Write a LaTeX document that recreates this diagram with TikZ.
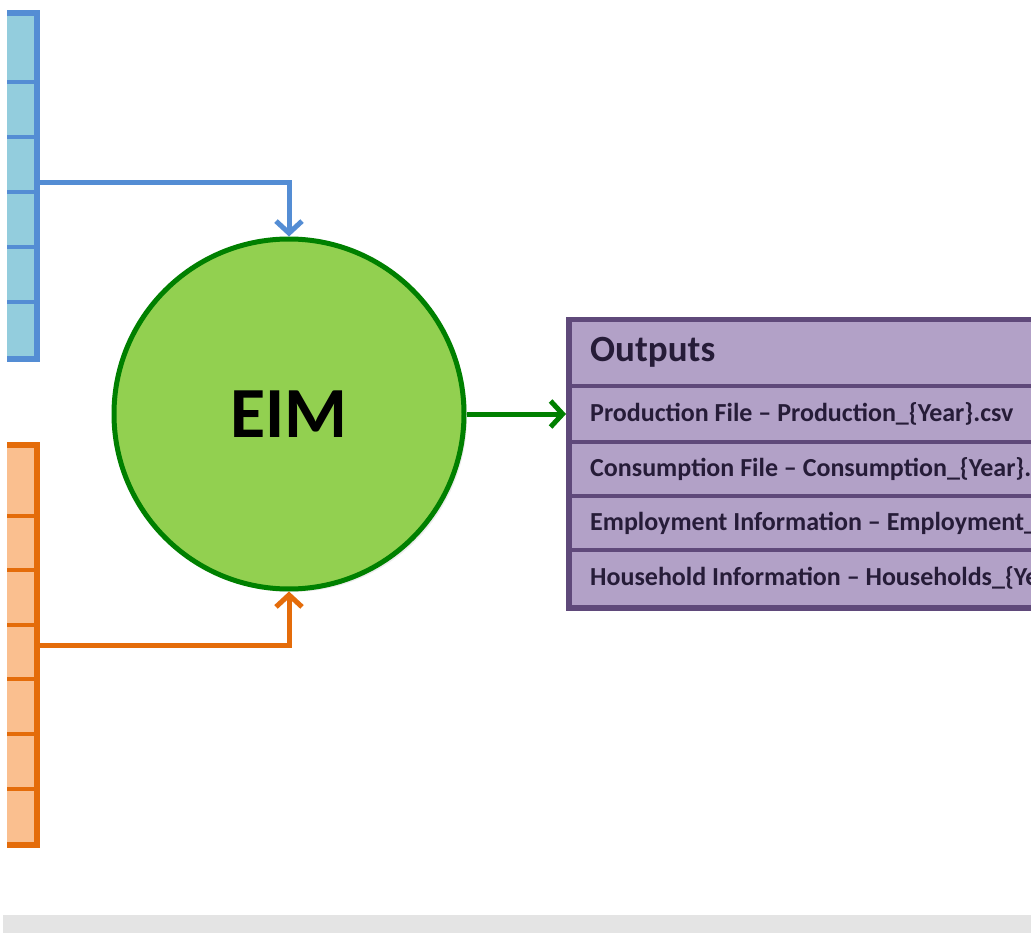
\documentclass[tikz,border=0pt]{standalone}
\usepackage{fontspec}
\setmainfont{Carlito}
\usetikzlibrary{arrows.meta,shadows}
\definecolor{inBlue}{RGB}{147,205,221}
\definecolor{inBlueLine}{RGB}{84,141,212}
\definecolor{inOrange}{RGB}{250,191,143}
\definecolor{inOrangeLine}{RGB}{228,108,10}
\definecolor{eimGreen}{RGB}{146,208,80}
\definecolor{eimGreenLine}{RGB}{0,128,0}
\definecolor{outPurple}{RGB}{178,161,199}
\definecolor{outPurpleLine}{RGB}{95,73,122}
\definecolor{outText}{RGB}{38,28,56}
\definecolor{band}{RGB}{228,228,228}
\begin{document}
\begin{tikzpicture}[x=1pt,y=-1pt]
    \tikzset{box/.style={draw,line width=5.5pt,inner sep=0pt,
        drop shadow={opacity=.2,shadow xshift=3pt,shadow yshift=-3pt}},
      inbox/.style={box,fill=inBlue,draw=inBlueLine,minimum width=70pt,minimum height=346pt},
      orbox/.style={box,fill=inOrange,draw=inOrangeLine,minimum width=70pt,minimum height=400pt},
      outbox/.style={box,fill=outPurple,draw=outPurpleLine,minimum width=500pt,minimum height=288pt},
      eim/.style={circle,draw=eimGreenLine,fill=eimGreen,line width=5pt,minimum size=350pt,
        drop shadow={opacity=.15,shadow xshift=3pt,shadow yshift=-3pt}},
      flow/.style={line width=5pt,-{Straight Barb[length=12pt,width=26pt]}},
      row/.style={anchor=west,inner sep=0pt,text=outText,font=\fontsize{26}{30}\selectfont\bfseries}}
    \useasboundingbox (0,0) rectangle (1031,933);
    \clip (0,0) rectangle (1031,933);
    \fill[white] (0,0) rectangle (1031,933);
    \fill[band] (3,915) rectangle (1031,933);

    % inputs (cut at the left edge)
    \begin{scope}
      \clip (7,0) rectangle (1031,933);
      \node[inbox] (blue) at (2,186) {};
      \foreach \y in {82,137,192,247,302}
        \draw[inBlueLine,line width=3.5pt] (blue.west |- 0,\y) -- (blue.east |- 0,\y);
      \node[orbox] (orange) at (2,645) {};
      \foreach \y in {516,570,625,679,734,789}
        \draw[inOrangeLine,line width=3.5pt] (orange.west |- 0,\y) -- (orange.east |- 0,\y);
    \end{scope}

    \node[eim] (e) at (289,414) {\fontsize{72}{76}\selectfont\bfseries EIM};

    % outputs
    \node[outbox,anchor=north west] (out) at (566,317) {};
    \foreach \y in {386,442,496,550}
      \draw[outPurpleLine,line width=3.5pt] (out.west |- 0,\y) -- (out.east |- 0,\y);
    \node[row,font=\fontsize{37}{40}\selectfont\bfseries] (ttl) at (590,352) {Outputs};
    \node[row] (prod) at (590,414) {Production File – Production\_\{Year\}.csv};
    \node[row] (cons) at (590,469) {Consumption File – Consumption\_\{Year\}.csv};
    \node[row] (empl) at (590,523) {Employment Information – Employment\_\{Year\}.csv};
    \node[row] (hous) at (590,578) {Household Information – Households\_\{Year\}.csv};

    \draw[flow,inBlueLine] (blue.east |- 0,183) -| (e.north);
    \draw[flow,inOrangeLine] (orange.east |- 0,645) -| (e.south);
    \draw[flow,eimGreenLine] (e.east) -- (out.west |- e.east);
\end{tikzpicture}
\end{document}
